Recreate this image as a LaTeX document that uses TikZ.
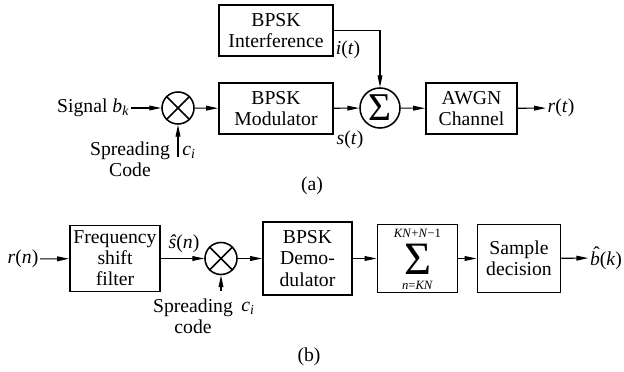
\documentclass[tikz,border=0pt]{standalone}
\usepackage{fontspec}
\setmainfont{Liberation Serif}
\usetikzlibrary{graphs}
\usetikzlibrary{arrows.meta}

\newcommand{\hatb}{\textit{b}\llap{\raisebox{0.24em}{\char"02C6}}}

\begin{document}
\begin{tikzpicture} [x=0.025cm, y=-0.025cm, font=\fontsize{14}{15}\selectfont,
        >={Triangle[length=8.5pt,width=3.4pt]},
        block/.style={draw, line width=1.3pt, inner sep=0pt, align=center},
        mixer/.style={draw, circle, line width=1.1pt, inner sep=0pt, minimum size=0.8cm},
        lbl/.style={inner sep=1pt, align=center}]
            \useasboundingbox (0,0) rectangle (624,372);

            % (a) transmitter
            \node[block, minimum width=2.85cm, minimum height=1.275cm] (intf) at (276, 30.5) {BPSK\\Interference};
            \node[lbl, anchor=east] (sig) at (131, 108) {Signal \textit{b}\textsubscript{\textit{k}}};
            \node[mixer] (mulA) at (178, 108) {};
            \node[block, minimum width=2.85cm, minimum height=1.275cm] (modA) at (276, 108.5) {BPSK\\Modulator};
            \node[mixer, minimum size=1cm] (sumA) at (380, 108) {\fontsize{28}{28}\selectfont Σ};
            \node[block, minimum width=2.275cm, minimum height=1.275cm] (awgn) at (471.5, 108.5) {AWGN\\Channel};
            \node[lbl] (rt) at (561, 108) {\textit{r}(\textit{t})};
            \node[lbl] (spA) at (130, 159) {Spreading\\Code};
            \node[lbl] (ciA) at (189, 152) {\textit{c}\textsubscript{\textit{i}}};
            \node[lbl] (it) at (348, 50) {\textit{i}(\textit{t})};
            \node[lbl] (st) at (350, 140) {\textit{s}(\textit{t})};
            \node[lbl] (capA) at (312, 186) {(a)};
            \coordinate (codeA) at (178, 157);

            \draw[line width=1.1pt] (mulA.north west) -- (mulA.south east) (mulA.north east) -- (mulA.south west);

            \graph[edges={->, line width=0.8pt}] {
                (sig) -> (mulA) -> (modA) -> (sumA) -> (awgn) -> (rt);
                (codeA) -> (mulA);
            };
            \draw[->, line width=0.8pt] (intf) -| (sumA);

            % (b) receiver
            \node[lbl] (rn) at (23, 259) {\textit{r}(\textit{n})};
            \node[block, minimum width=2.25cm, minimum height=1.65cm] (filt) at (115, 258.5) {Frequency\\shift\\filter};
            \node[mixer] (mulB) at (221, 258.5) {};
            \node[block, minimum width=2.225cm, minimum height=1.825cm] (demod) at (307.5, 258.5) {BPSK\\Demo-\\dulator};
            \node[block, minimum width=2cm, minimum height=1.7cm] (acc) at (417.5, 258.5) {};
            \node[block, minimum width=2.075cm, minimum height=1.7cm] (samp) at (519, 258.5) {Sample\\decision};
            \node[lbl] (bk) at (606, 258) {\hatb(\textit{k})};
            \node[lbl] (accsup) at (417.5, 233) {\fontsize{9}{9}\selectfont\textit{KN}+\textit{N}−1};
            \node[lbl, text height=21pt, text depth=0pt] (accsig) at (417.5, 260) {\fontsize{33}{33}\selectfont Σ};
            \node[lbl] (accsub) at (417.5, 285) {\fontsize{9}{9}\selectfont\textit{n}=\textit{KN}};
            \node[lbl] (sn) at (184, 244) {\textit{ŝ}(\textit{n})};
            \node[lbl] (spB) at (193, 316) {Spreading\\code};
            \node[lbl] (ciB) at (248, 308) {\textit{c}\textsubscript{\textit{i}}};
            \node[lbl] (capB) at (309, 357) {(b)};
            \coordinate (codeB) at (221, 291);

            \draw[line width=1.1pt] (mulB.north west) -- (mulB.south east) (mulB.north east) -- (mulB.south west);

            \graph[edges={->, line width=0.8pt}] {
                (rn) -> (filt) -> (mulB) -> (demod) -> (acc) -> (samp) -> (bk);
                (codeB) -> (mulB);
            };
        \end{tikzpicture}
\end{document}
